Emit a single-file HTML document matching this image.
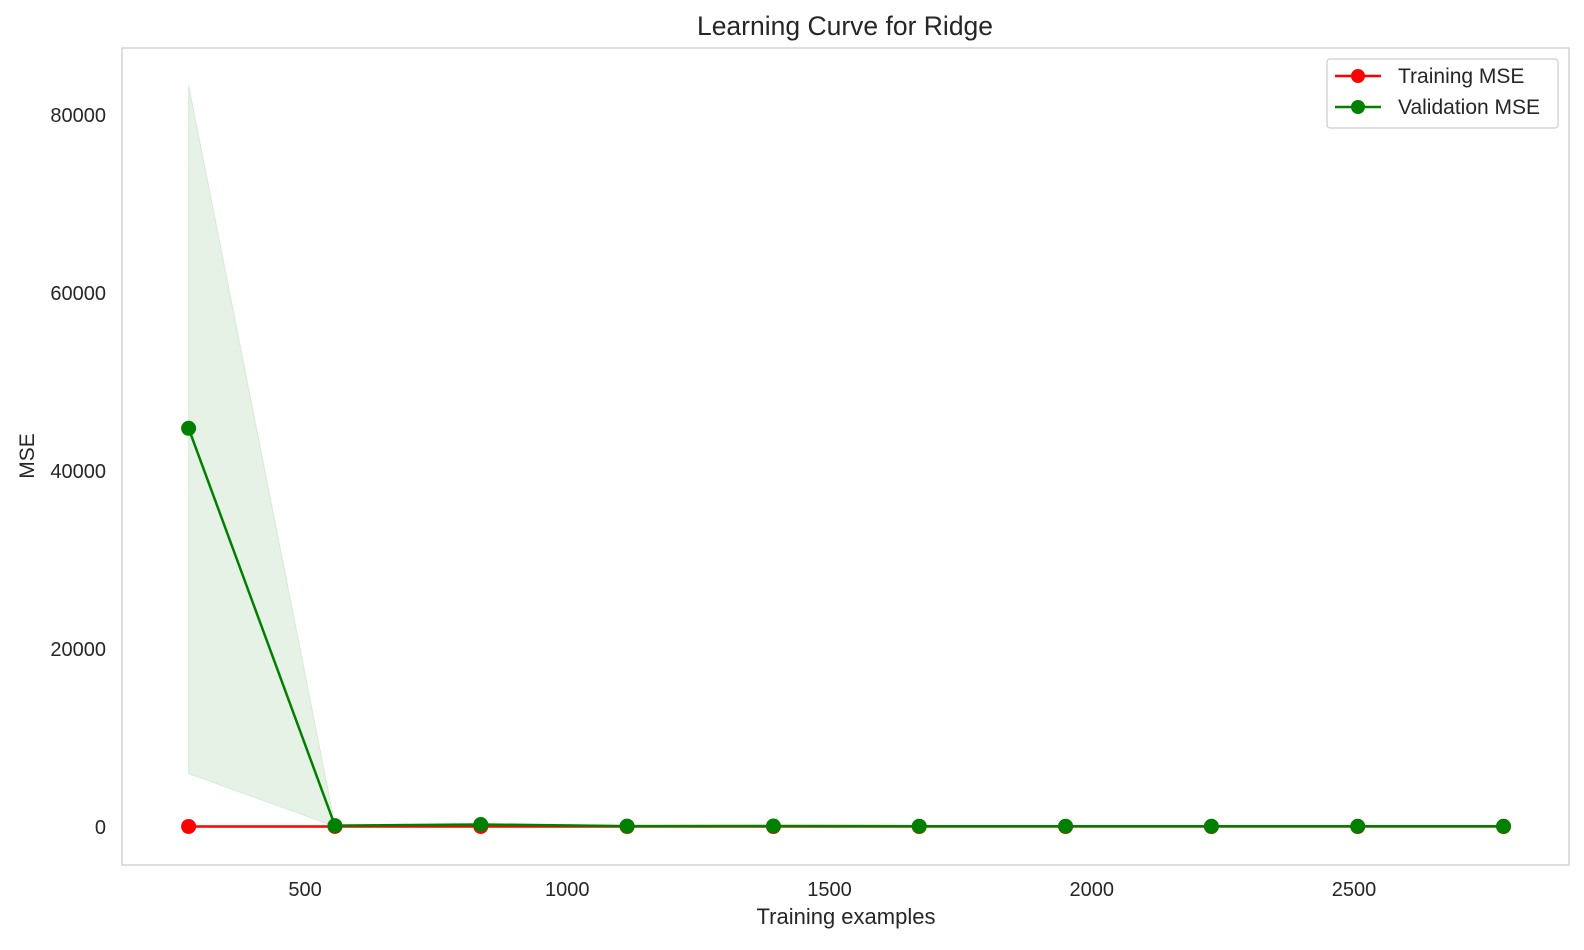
<!DOCTYPE html>
<html><head><meta charset="utf-8"><style>
body{margin:0;background:#fff}
text{font-family:"Liberation Sans",Arial,sans-serif;fill:#262626}
</style></head><body>
<svg id="c" width="1584" height="945" viewBox="0 0 1584 945" xmlns="http://www.w3.org/2000/svg">
<rect width="1584" height="945" fill="#fff"/>
<text x="845" y="35" font-size="26.5" text-anchor="middle">Learning Curve for Ridge</text>
<rect x="122" y="48" width="1447" height="817" fill="none" stroke="#cccccc" stroke-width="1.3"/>
<g id="ticks"></g>
<g id="plot"></g>
<text x="846" y="924" font-size="22" text-anchor="middle">Training examples</text>
<text transform="translate(34,456) rotate(-90)" font-size="21" text-anchor="middle">MSE</text>
<g>
<rect x="1327" y="59" width="231" height="69" rx="3" fill="#fff" stroke="#cccccc" stroke-width="1.2"/>
<g>
<line x1="1335" y1="76" x2="1381" y2="76" stroke="red" stroke-width="2.5"/><circle cx="1358" cy="76" r="7" fill="red"/>
<text x="1398" y="83" font-size="21">Training MSE</text></g>
<g>
<line x1="1335" y1="107" x2="1381" y2="107" stroke="green" stroke-width="2.5"/><circle cx="1358" cy="107" r="7" fill="green"/>
<text x="1398" y="114" font-size="21">Validation MSE</text></g>
</g>
</svg>
<script>
const trainSizes=[278,557,835,1114,1393,1671,1950,2228,2507,2785];
const trainMSE=[60,60,60,50,50,50,50,50,50,50];
const valMSE=[44800,150,280,100,110,90,90,80,80,80];
const valUpper=[83400,250,400,200,200,180,170,160,160,150];
const valLower=[6000,50,160,0,20,0,10,0,0,10];
const xTicks=[500,1000,1500,2000,2500];
const yTicks=[0,20000,40000,60000,80000];
const sx=v=>42.8+v*0.5245;
const sy=v=>827-v*0.0089;
const NS="http://www.w3.org/2000/svg";
const tk=document.getElementById('ticks'),pl=document.getElementById('plot');
function mk(tag,attrs,parent){const e=document.createElementNS(NS,tag);for(const k in attrs)e.setAttribute(k,attrs[k]);parent.appendChild(e);return e;}
xTicks.forEach(t=>{const e=mk('text',{x:sx(t),y:896,'font-size':20,'text-anchor':'middle'},tk);e.textContent=t;

});
yTicks.forEach(t=>{const e=mk('text',{x:106,y:sy(t)+7,'font-size':20,'text-anchor':'end'},tk);e.textContent=t;

});
let pts=trainSizes.map((s,i)=>sx(s)+','+sy(valUpper[i])).concat(trainSizes.map((s,i)=>sx(s)+','+sy(valLower[i])).reverse());
const band=mk('polygon',{points:pts.join(' '),fill:'green','fill-opacity':0.1,stroke:'green','stroke-opacity':0.1},pl);


function series(vals,color,name){
const l=mk('polyline',{points:trainSizes.map((s,i)=>sx(s)+','+sy(vals[i])).join(' '),fill:'none',stroke:color,'stroke-width':2.5},pl);


trainSizes.forEach((s,i)=>{const c=mk('circle',{cx:sx(s),cy:sy(vals[i]),r:7.5,fill:color},pl);

});
}
series(trainMSE,'red','training-mse');
series(valMSE,'green','validation-mse');
</script>
</body></html>
